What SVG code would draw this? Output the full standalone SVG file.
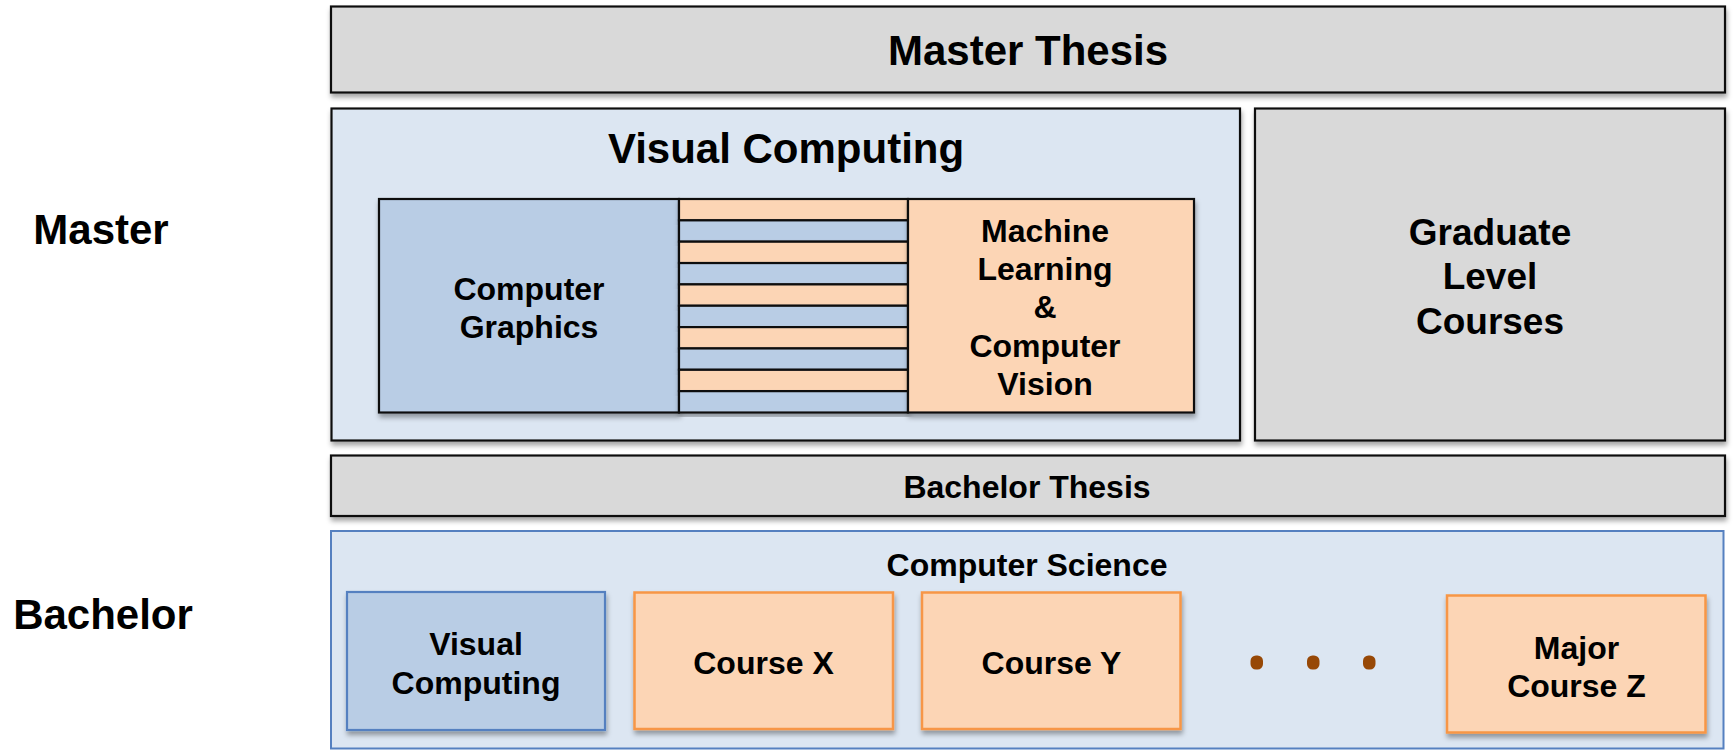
<svg xmlns="http://www.w3.org/2000/svg" width="1733" height="750" viewBox="0 0 1733 750">
<defs>
<filter id="sh" x="-5%" y="-10%" width="110%" height="130%">
<feDropShadow dx="1" dy="4" stdDeviation="2.5" flood-color="#000" flood-opacity="0.35"/>
</filter>
<style>
text{font-family:"Liberation Sans",Arial,sans-serif;font-weight:bold;fill:#000;text-anchor:middle}
.gray{fill:#d9d9d9;stroke:#111;stroke-width:2.2}
.pale{fill:#dce6f2;stroke:#111;stroke-width:2.2}
.pale2{fill:#dce6f2;stroke:#5580c0;stroke-width:2}
.blue{fill:#b9cde5;stroke:#111;stroke-width:2.2}
.orange{fill:#fcd5b5;stroke:#111;stroke-width:2.2}
.bblue{fill:#b9cde5;stroke:#5580c0;stroke-width:2.2}
.borange{fill:#fcd5b5;stroke:#f79646;stroke-width:2.5}
.dot{fill:#974806}
.t42{font-size:42px}
.t37{font-size:37px}
.t32{font-size:32px}
</style>
</defs>
<rect width="1733" height="750" fill="#fff"/>

<g id="label-master"><text class="t42" x="101" y="244">Master</text></g>
<g id="label-bachelor"><text class="t42" x="103" y="629">Bachelor</text></g>

<g id="master-thesis">
<rect class="gray" x="331" y="6.5" width="1394" height="86" filter="url(#sh)"/>
<text class="t42" x="1028" y="65">Master Thesis</text>
</g>

<g id="visual-computing-master">
<rect class="pale" x="331.5" y="108.5" width="908.5" height="332" filter="url(#sh)"/>
<text class="t42" x="786" y="163">Visual Computing</text>
</g>

<g id="computer-graphics">
<rect class="blue" x="379" y="199" width="300" height="213.5" filter="url(#sh)"/>
<text class="t32" x="529" y="300">Computer</text>
<text class="t32" x="529" y="338">Graphics</text>
</g>

<g id="overlap-stripes">
<rect class="orange" x="679" y="199" width="229" height="21.35" filter="url(#sh)"/>
<rect class="blue" x="679" y="220.35" width="229" height="21.35" filter="url(#sh)"/>
<rect class="orange" x="679" y="241.7" width="229" height="21.35" filter="url(#sh)"/>
<rect class="blue" x="679" y="263.05" width="229" height="21.35" filter="url(#sh)"/>
<rect class="orange" x="679" y="284.4" width="229" height="21.35" filter="url(#sh)"/>
<rect class="blue" x="679" y="305.75" width="229" height="21.35" filter="url(#sh)"/>
<rect class="orange" x="679" y="327.1" width="229" height="21.35" filter="url(#sh)"/>
<rect class="blue" x="679" y="348.45" width="229" height="21.35" filter="url(#sh)"/>
<rect class="orange" x="679" y="369.8" width="229" height="21.35" filter="url(#sh)"/>
<rect class="blue" x="679" y="391.15" width="229" height="21.35" filter="url(#sh)"/>
</g>

<g id="ml-cv">
<rect class="orange" x="908" y="199" width="286" height="213.5" filter="url(#sh)"/>
<text class="t32" x="1045" y="241.5">Machine</text>
<text class="t32" x="1045" y="280">Learning</text>
<text class="t32" x="1045" y="318">&amp;</text>
<text class="t32" x="1045" y="356.5">Computer</text>
<text class="t32" x="1045" y="394.5">Vision</text>
</g>

<g id="graduate-courses">
<rect class="gray" x="1255" y="108.5" width="470" height="332" filter="url(#sh)"/>
<text class="t37" x="1490" y="245">Graduate</text>
<text class="t37" x="1490" y="289">Level</text>
<text class="t37" x="1490" y="334">Courses</text>
</g>

<g id="bachelor-thesis">
<rect class="gray" x="331" y="455.5" width="1394" height="60.5" filter="url(#sh)"/>
<text class="t32" x="1027" y="498">Bachelor Thesis</text>
</g>

<g id="computer-science">
<rect class="pale2" x="331" y="531" width="1392.5" height="217.5"/>
<text class="t32" x="1027" y="576">Computer Science</text>
</g>

<g id="visual-computing-bachelor">
<rect class="bblue" x="347" y="592" width="258" height="138" filter="url(#sh)"/>
<text class="t32" x="476" y="655">Visual</text>
<text class="t32" x="476" y="693.5">Computing</text>
</g>

<g id="course-x">
<rect class="borange" x="634.5" y="592.5" width="258.5" height="136.5" filter="url(#sh)"/>
<text class="t32" x="763.5" y="674">Course X</text>
</g>

<g id="course-y">
<rect class="borange" x="922" y="592.5" width="258.5" height="136.5" filter="url(#sh)"/>
<text class="t32" x="1051.5" y="674">Course Y</text>
</g>

<g id="ellipsis">
<rect class="dot" x="1250.5" y="655.5" width="12.5" height="14" rx="5.5"/>
<rect class="dot" x="1307" y="655.5" width="12.5" height="14" rx="5.5"/>
<rect class="dot" x="1363" y="655.5" width="12.5" height="14" rx="5.5"/>
</g>

<g id="major-course-z">
<rect class="borange" x="1447" y="595.5" width="258.5" height="137" filter="url(#sh)"/>
<text class="t32" x="1576.5" y="658.5">Major</text>
<text class="t32" x="1576.5" y="697">Course Z</text>
</g>

<g id="connectors"/>
</svg>
